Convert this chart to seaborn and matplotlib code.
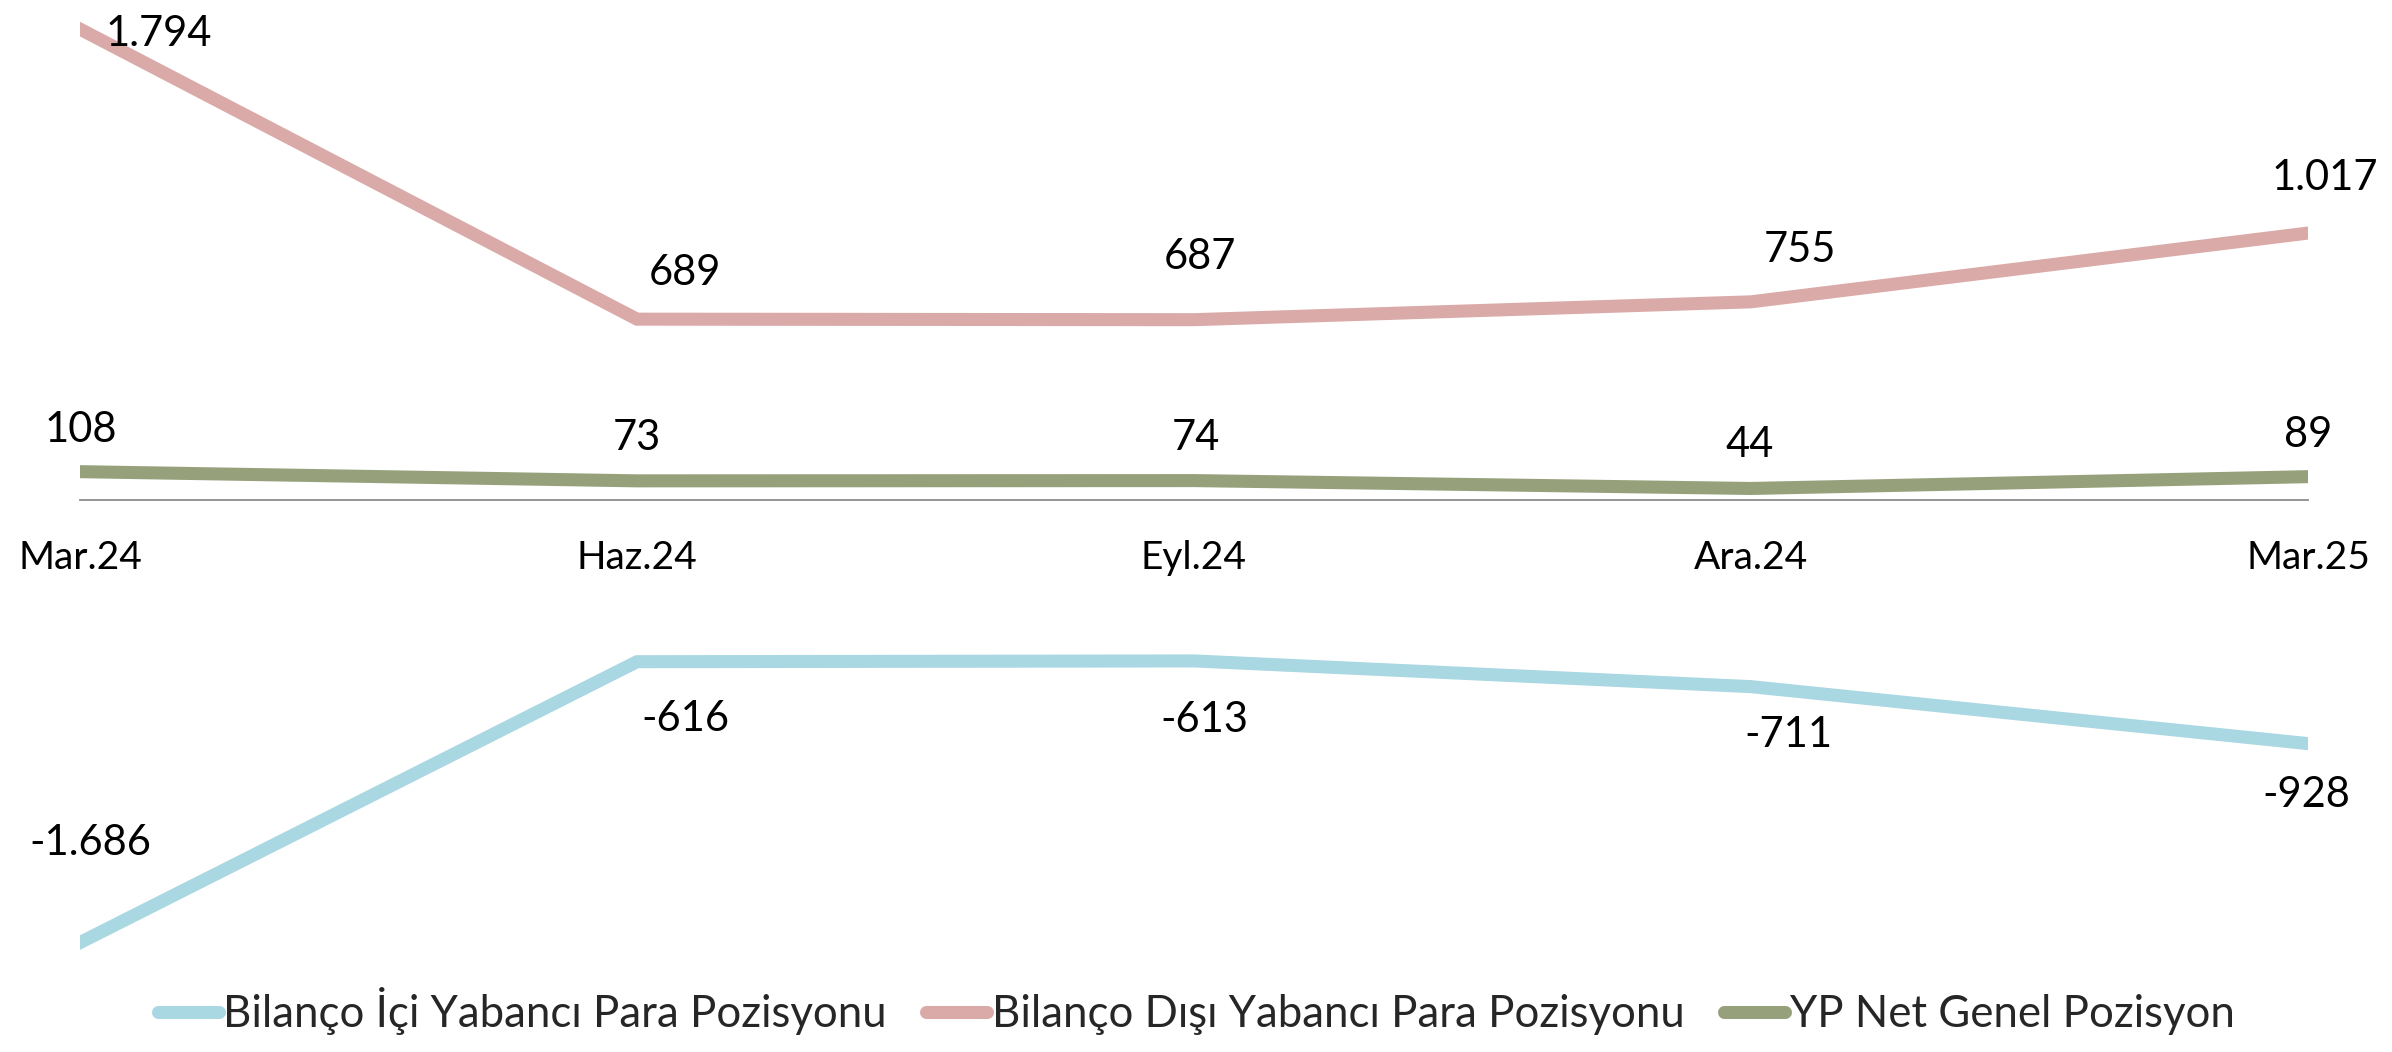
import numpy as np
import pandas as pd
import matplotlib
matplotlib.use("Agg")
import matplotlib.pyplot as plt
import seaborn as sns
from matplotlib.lines import Line2D

# ---------------- data ----------------
categories = ["Mar.24", "Haz.24", "Eyl.24", "Ara.24", "Mar.25"]
bilanco_ici = [-1686, -616, -613, -711, -928]
bilanco_disi = [1794, 689, 687, 755, 1017]
yp_net = [108, 73, 74, 44, 89]
series_names = [
    "Bilanço İçi Yabancı Para Pozisyonu",
    "Bilanço Dışı Yabancı Para Pozisyonu",
    "YP Net Genel Pozisyon",
]
colors = ["#A9D7E2", "#D9AAA8", "#96A17C"]

# label offsets (pixels, relative to the point: dx right, dy up)
offsets_ici = [(10, 103), (48, -54), (10, -56), (37, -45), (-2, -48)]
offsets_disi = [(79, -2), (48, 49), (6, 66), (49, 55), (17, 58)]
offsets_net = [(1, 45), (0, 46), (2, 46), (-1, 46), (0, 45)]

def fmt(v):
    return f"{v:,}".replace(",", ".")

df = pd.DataFrame({
    "Dönem": pd.Categorical(categories * 3, categories=categories, ordered=True),
    "Değer": bilanco_ici + bilanco_disi + yp_net,
    "Seri": [series_names[0]] * 5 + [series_names[1]] * 5 + [series_names[2]] * 5,
})

# ---------------- style ----------------
sns.set_style("white")
plt.rcParams["font.family"] = ["Lato", "DejaVu Sans"]

DPI = 100
fig = plt.figure(figsize=(23.92, 10.52), dpi=DPI)
ax = fig.add_axes([80 / 2392, 0.0631, 2228 / 2392, 0.9232])

LW = 9.4
sns.lineplot(
    data=df, x="Dönem", y="Değer", hue="Seri", hue_order=series_names,
    palette=dict(zip(series_names, colors)), linewidth=LW, ax=ax,
    legend=False, sort=False,
)
for ln in ax.get_lines():
    ln.set_solid_capstyle("projecting")
    ln.set_solid_joinstyle("miter")
    ln.set_zorder(3)

ax.set_xlim(0, len(categories) - 1)
ax.set_ylim(-1850, 1850)

for name, s in ax.spines.items():
    s.set_visible(False)
ax.spines["bottom"].set_visible(True)
ax.spines["bottom"].set_position(("data", 0))
ax.spines["bottom"].set_color("#8C8C8C")
ax.spines["bottom"].set_linewidth(1.3)
ax.spines["bottom"].set_zorder(2)

ax.set_yticks([])
ax.set_xlabel("")
ax.set_ylabel("")
ax.set_xticks(range(len(categories)))
ax.set_xticklabels(categories)
ax.tick_params(axis="x", length=0, pad=29, labelsize=28, labelcolor="black")

# data labels
LABEL_FS = 30
half_digit = 0.72 * LABEL_FS * DPI / 72 / 2
for vals, offs in [(bilanco_ici, offsets_ici), (bilanco_disi, offsets_disi), (yp_net, offsets_net)]:
    for i, (v, (dx, dy)) in enumerate(zip(vals, offs)):
        ax.annotate(fmt(v), xy=(i, v), xytext=(dx, dy - half_digit),
                    textcoords="offset pixels", ha="center", va="baseline",
                    fontsize=LABEL_FS, color="black", annotation_clip=False, zorder=5)

# legend
handles = [Line2D([0], [0], color=c, lw=LW, solid_capstyle="round") for c in colors]
fig.legend(handles, series_names, loc="center", bbox_to_anchor=(0.5, 0.039),
           ncol=3, frameon=False, fontsize=31.5, handlelength=1.4,
           handletextpad=0.1, columnspacing=0.9, borderaxespad=0)

fig.savefig("out.png", dpi=DPI, facecolor="white")
